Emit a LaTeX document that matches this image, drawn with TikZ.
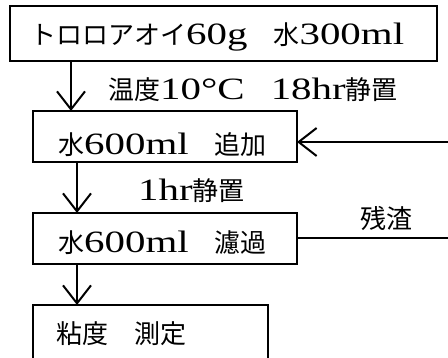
\documentclass[tikz,border=0pt]{standalone}
\usepackage{fontspec}
\setmainfont{Noto Sans CJK JP}
\newfontfamily\latf{Liberation Serif}[FakeStretch=1.32]
\newcommand\lt[1]{{\latf\fontsize{31}{31}\selectfont #1}}
\usetikzlibrary{arrows.meta}
\begin{document}
\begin{tikzpicture}[x=1pt,y=-1pt,
  every node/.style={font=\fontsize{26}{30}\selectfont},
  box/.style={draw,line width=2pt,inner sep=0pt,outer sep=0pt,anchor=north west},
  lbl/.style={anchor=base west,inner sep=0pt},
  arr/.style={line width=2pt,-{Straight Barb[length=18pt,width=28pt,line width=2pt]}},
  conn/.style={line width=1.6pt}]
\useasboundingbox (0,0) rectangle (448,358);
\fill[white] (0,0) rectangle (448,358);
% boxes
\node[box,minimum width=427pt,minimum height=55pt] (b1) at (10,6) {};
\node[box,minimum width=264pt,minimum height=51pt] (b2) at (33,111) {};
\node[box,minimum width=264pt,minimum height=51pt] (b3) at (33,213) {};
\node[box,draw=none,minimum width=235pt,minimum height=53pt] (b4) at (33,305) {};
\draw[line width=2pt] (b4.south west) -- (b4.north west) -- (b4.north east) -- (b4.south east);
% box texts
\node[lbl] (t1) at (30,45) {トロロアオイ\lt{60g}　水\lt{300ml}};
\node[lbl] (t2) at (58,155) {水\lt{600ml}　追加};
\node[lbl] (t3) at (58,253) {水\lt{600ml}　濾過};
\node[lbl] (t4) at (56,344) {粘度　測定};
% labels
\node[lbl] (l1) at (108,100) {温度\lt{10°C}　\lt{18hr}静置};
\node[lbl] (l2) at (138,201) {\lt{1hr}静置};
\node[lbl] (l3) at (360,229) {残渣};
% connectors
\coordinate (c1) at (71,0);
\coordinate (c2) at (77,0);
\coordinate (r1) at (448,142);
\coordinate (r2) at (448,238);
\draw[arr] (c1 |- b1.south) -- (c1 |- b2.north);
\draw[arr] (c2 |- b2.south) -- (c2 |- b3.north);
\draw[arr] (c2 |- b3.south) -- (c2 |- b4.north);
\draw[arr] (r1) -- (r1 -| b2.east);
\draw[conn] (b3.east |- r2) -- (r2);
\end{tikzpicture}
\end{document}
